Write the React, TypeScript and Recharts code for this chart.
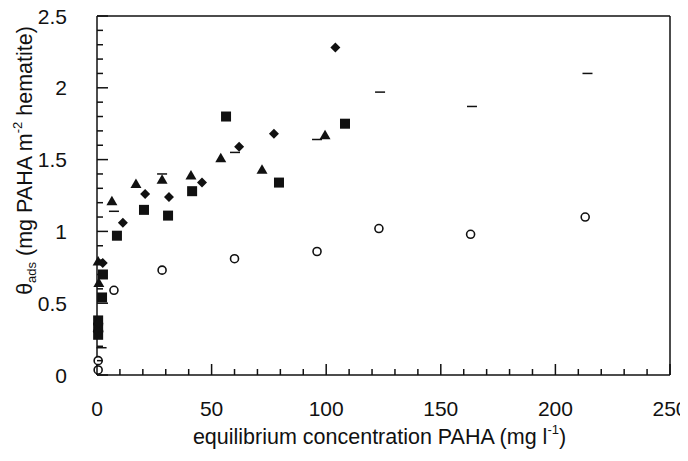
import React from 'react';
import { ScatterChart, Scatter, XAxis, YAxis } from 'recharts';

const diamondX = [0.6, 0.6, 2.5, 11.3, 21, 31.4, 45.8, 62, 77.2, 104];
const diamondY = [0.36, 0.3, 0.78, 1.06, 1.26, 1.24, 1.34, 1.59, 1.68, 2.28];

const triangleX = [0.5, 0.8, 0.5, 6.5, 17, 28.4, 41, 54, 72, 99.5];
const triangleY = [0.33, 0.64, 0.79, 1.21, 1.33, 1.36, 1.39, 1.51, 1.43, 1.67];

const squareX = [0.5, 0.5, 0.5, 2.2, 2.6, 8.7, 20.5, 31, 41.5, 56.3, 79.4, 108.2];
const squareY = [0.28, 0.33, 0.38, 0.54, 0.7, 0.97, 1.15, 1.11, 1.28, 1.8, 1.34, 1.75];

const circleX = [0.5, 0.5, 7.4, 28.4, 60, 96, 123, 163, 213];
const circleY = [0.035, 0.1, 0.59, 0.73, 0.81, 0.86, 1.02, 0.98, 1.1];

const dashX = [2, 7.4, 28.4, 60.2, 96, 123.5, 163.6, 214];
const dashY = [0.19, 1.14, 1.4, 1.55, 1.64, 1.97, 1.87, 2.1];

const xTicks = [0, 10, 20, 30, 40, 50, 60, 70, 80, 90, 100, 110, 120, 130, 140, 150, 160, 170, 180, 190, 200, 210, 220, 230, 240, 250];
const xMajor = [0, 50, 100, 150, 200, 250];
const yTicks = [0, 0.1, 0.2, 0.3, 0.4, 0.5, 0.6, 0.7, 0.8, 0.9, 1, 1.1, 1.2, 1.3, 1.4, 1.5, 1.6, 1.7, 1.8, 1.9, 2, 2.1, 2.2, 2.3, 2.4, 2.5];
const yMajor = [0, 0.5, 1, 1.5, 2, 2.5];

const pts = (xs: number[], ys: number[]) => xs.map((x, i) => ({ x, y: ys[i] }));

const INK = '#111';
const FONT = '"Liberation Sans", Arial, sans-serif';
const MAJOR = 11;
const MINOR = 6;

const isMajor = (v: number, list: number[]) => list.some(m => Math.abs(m - v) < 1e-6);

const BottomTick = (p: any) => {
  const major = isMajor(p.payload.value, xMajor);
  return (
    <g>
      <line x1={p.x} x2={p.x} y1={p.y} y2={p.y - (major ? MAJOR : MINOR)} stroke={INK} strokeWidth={1.5} />
      {major && (
        <text x={p.x} y={p.y + 33} textAnchor="middle" dominantBaseline="central" fontSize={21} fill={INK} fontFamily={FONT}>
          {p.payload.value}
        </text>
      )}
    </g>
  );
};

const TopTick = (p: any) => {
  const major = isMajor(p.payload.value, xMajor);
  return <line x1={p.x} x2={p.x} y1={p.y} y2={p.y + (major ? MAJOR : MINOR)} stroke={INK} strokeWidth={1.5} />;
};

const LeftTick = (p: any) => {
  const major = isMajor(p.payload.value, yMajor);
  return (
    <g>
      <line x1={p.x} x2={p.x + (major ? MAJOR : MINOR)} y1={p.y} y2={p.y} stroke={INK} strokeWidth={1.5} />
      {major && (
        <text x={p.x - 30} y={p.y} textAnchor="end" dominantBaseline="central" fontSize={21} fill={INK} fontFamily={FONT}>
          {p.payload.value}
        </text>
      )}
    </g>
  );
};

const RightTick = (p: any) => {
  const major = isMajor(p.payload.value, yMajor);
  return <line x1={p.x} x2={p.x - (major ? MAJOR : MINOR)} y1={p.y} y2={p.y} stroke={INK} strokeWidth={1.5} />;
};

const Diamond = (p: any) => (
  <polygon points={`${p.cx},${p.cy - 5} ${p.cx + 5},${p.cy} ${p.cx},${p.cy + 5} ${p.cx - 5},${p.cy}`} fill={INK} />
);
const Triangle = (p: any) => (
  <polygon points={`${p.cx},${p.cy - 5.5} ${p.cx + 5.5},${p.cy + 4} ${p.cx - 5.5},${p.cy + 4}`} fill={INK} />
);
const Square = (p: any) => <rect x={p.cx - 5} y={p.cy - 5} width={10} height={10} fill={INK} />;
const Circle = (p: any) => <circle cx={p.cx} cy={p.cy} r={4} fill="#fff" stroke={INK} strokeWidth={1.6} />;
const Dash = (p: any) => <line x1={p.cx - 5} x2={p.cx + 5} y1={p.cy} y2={p.cy} stroke={INK} strokeWidth={1.5} />;

const YTitle = (props: any) => {
  const vb = props.viewBox;
  const x = vb.x + 25;
  const y = vb.y + vb.height / 2 - 35;
  return (
    <text x={x} y={y} transform={`rotate(-90, ${x}, ${y})`} textAnchor="middle" dominantBaseline="central" fontSize={21.5} fill={INK} fontFamily={FONT}>
      <tspan>θ</tspan>
      <tspan fontSize={13} dy={6}>ads</tspan>
      <tspan dy={-6}> (mg PAHA m</tspan>
      <tspan fontSize={13} dy={-8}>-2</tspan>
      <tspan dy={8}> hematite)</tspan>
    </text>
  );
};

const XTitle = (props: any) => {
  const vb = props.viewBox;
  const x = vb.x + vb.width / 2 - 4;
  const y = vb.y + 62;
  return (
    <text x={x} y={y} textAnchor="middle" dominantBaseline="central" fontSize={21.5} fill={INK} fontFamily={FONT}>
      <tspan>equilibrium concentration PAHA (mg l</tspan>
      <tspan fontSize={13} dy={-8}>-1</tspan>
      <tspan dy={8}>)</tspan>
    </text>
  );
};

export default function App() {
  return (
    <div style={{ width: 688, height: 461, margin: -8, background: '#fff' }}>
      <ScatterChart width={688} height={461} margin={{ top: 15, right: 0, bottom: 0, left: 0 }}>
        <XAxis
          xAxisId="b"
          type="number"
          dataKey="x"
          domain={[0, 250]}
          ticks={xTicks}
          interval={0}
          height={86}
          tickSize={0}
          tickMargin={0}
          tickLine={false}
          tick={<BottomTick />}
          axisLine={{ stroke: INK, strokeWidth: 1.5 }}
          label={<XTitle />}
        />
        <XAxis
          xAxisId="t"
          orientation="top"
          type="number"
          dataKey="x"
          domain={[0, 250]}
          ticks={xTicks}
          interval={0}
          height={1}
          tickSize={0}
          tickMargin={0}
          tickLine={false}
          tick={<TopTick />}
          axisLine={{ stroke: INK, strokeWidth: 1.5 }}
        />
        <YAxis
          yAxisId="l"
          type="number"
          dataKey="y"
          domain={[0, 2.5]}
          ticks={yTicks}
          interval={0}
          width={97}
          tickSize={0}
          tickMargin={0}
          tickLine={false}
          tick={<LeftTick />}
          axisLine={{ stroke: INK, strokeWidth: 1.5 }}
          label={<YTitle />}
        />
        <YAxis
          yAxisId="r"
          orientation="right"
          type="number"
          dataKey="y"
          domain={[0, 2.5]}
          ticks={yTicks}
          interval={0}
          width={18}
          tickSize={0}
          tickMargin={0}
          tickLine={false}
          tick={<RightTick />}
          axisLine={{ stroke: INK, strokeWidth: 1.5 }}
        />
        <Scatter xAxisId="b" yAxisId="l" data={pts(circleX, circleY)} shape={<Circle />} isAnimationActive={false} />
        <Scatter xAxisId="b" yAxisId="l" data={pts(dashX, dashY)} shape={<Dash />} isAnimationActive={false} />
        <Scatter xAxisId="b" yAxisId="l" data={pts(squareX, squareY)} shape={<Square />} isAnimationActive={false} />
        <Scatter xAxisId="b" yAxisId="l" data={pts(triangleX, triangleY)} shape={<Triangle />} isAnimationActive={false} />
        <Scatter xAxisId="b" yAxisId="l" data={pts(diamondX, diamondY)} shape={<Diamond />} isAnimationActive={false} />
      </ScatterChart>
    </div>
  );
}
